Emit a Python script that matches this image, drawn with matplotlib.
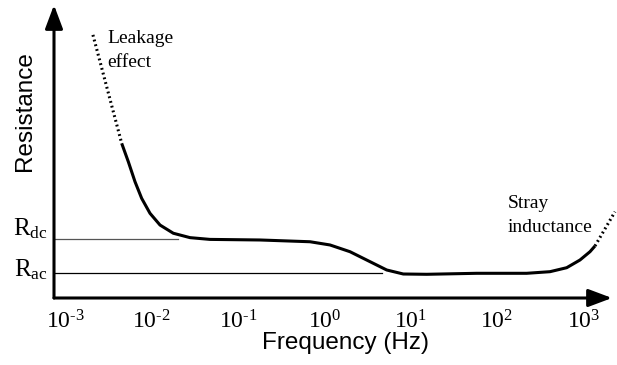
import matplotlib
matplotlib.use("Agg")
import matplotlib.pyplot as plt

plt.rcParams['mathtext.fontset'] = 'custom'
plt.rcParams['mathtext.rm'] = 'Liberation Serif'
plt.rcParams['mathtext.it'] = 'Liberation Serif:italic'

# ---- data (frequency in Hz, resistance in arbitrary units) ----
leak_f = [0.00208, 0.00448]
leak_r = [0.898, 0.528]

main_f = [0.00448, 0.00535, 0.00639, 0.00764, 0.00954, 0.01246, 0.01776,
          0.02773, 0.04726, 0.1795, 0.6815, 1.162, 1.981, 3.378, 5.276,
          8.215, 15.34, 58.2, 221.0, 411.5, 642.6, 916.2, 1196.0, 1367.0]
main_r = [0.528, 0.465, 0.397, 0.340, 0.289, 0.249, 0.221,
          0.206, 0.200, 0.198, 0.192, 0.181, 0.158, 0.124, 0.0956,
          0.0819, 0.0809, 0.0843, 0.0843, 0.0898, 0.1034, 0.1297, 0.158, 0.1775]

stray_f = [1367.0, 2332.0]
stray_r = [0.1775, 0.2945]

R_dc = 0.203
R_ac = 0.087
rdc_end = 0.0203
rac_end = 4.60

tick_vals = [1e-3, 1e-2, 1e-1, 1e0, 1e1, 1e2, 1e3]
tick_labels = [r'$\mathrm{10^{\text{-}3}}$', r'$\mathrm{10^{\text{-}2}}$',
               r'$\mathrm{10^{\text{-}1}}$', r'$\mathrm{10^{0}}$',
               r'$\mathrm{10^{1}}$', r'$\mathrm{10^{2}}$', r'$\mathrm{10^{3}}$']

W, H = 617, 365
fig = plt.figure(figsize=(W / 100, H / 100), dpi=100)
x0, x1, y0, y1 = 54, 612, 298, 5
ax = fig.add_axes([x0 / W, (H - y0) / H, (x1 - x0) / W, (y0 - y1) / H])
ax.set_xscale('log')
ax.set_xlim(10 ** -3.133, 10 ** 3.333)
ax.set_ylim(0, 1)
for s in ax.spines.values():
    s.set_visible(False)
ax.set_yticks([])
ax.set_xticks(tick_vals)
ax.set_xticklabels(tick_labels, fontsize=17)
ax.xaxis.set_minor_locator(matplotlib.ticker.NullLocator())
ax.tick_params(axis='x', length=0, pad=8)

# reference lines
ax.plot([ax.get_xlim()[0], rdc_end], [R_dc, R_dc], color='#555555', lw=0.9)
ax.plot([ax.get_xlim()[0], rac_end], [R_ac, R_ac], color='black', lw=0.9)

# curve
ax.plot(main_f, main_r, color='black', lw=2.2, solid_capstyle='butt',
        solid_joinstyle='round')
ax.plot(leak_f, leak_r, color='black', lw=2.2, ls=(0, (0.6, 1.0)),
        clip_on=False)
ax.plot(stray_f, stray_r, color='black', lw=2.2, ls=(0, (0.6, 1.0)),
        clip_on=False)

# axes arrows
arrow = dict(arrowstyle='-|>,head_length=0.8,head_width=0.3', color='black',
             lw=2.2, shrinkA=0, shrinkB=0, mutation_scale=18)
ax.annotate('', xy=(1, 0), xytext=(0, 0), xycoords='axes fraction',
            textcoords='axes fraction', arrowprops=arrow, annotation_clip=False)
ax.annotate('', xy=(0, 1), xytext=(0, 0), xycoords='axes fraction',
            textcoords='axes fraction', arrowprops=arrow, annotation_clip=False)

def fx(px):
    return px / W

def fy(py):
    return (H - py) / H

serif = 'Liberation Serif'
sans = 'Liberation Sans'
fig.text(fx(48), fy(235), r'$\mathrm{R_{dc}}$', fontsize=18, ha='right', va='baseline')
fig.text(fx(48), fy(276), r'$\mathrm{R_{ac}}$', fontsize=18, ha='right', va='baseline')
fig.text(fx(107), fy(43), 'Leakage', family=serif, fontsize=14, ha='left', va='baseline')
fig.text(fx(107), fy(67), 'effect', family=serif, fontsize=14, ha='left', va='baseline')
fig.text(fx(508), fy(208), 'Stray', family=serif, fontsize=14, ha='left', va='baseline')
fig.text(fx(508), fy(232), 'inductance', family=serif, fontsize=14, ha='left', va='baseline')
fig.text(fx(25), fy(111), 'Resistance', family=sans, fontsize=17.5, rotation=90,
         ha='center', va='center')
fig.text(fx(345), fy(343), 'Frequency (Hz)', family=sans, fontsize=17.5,
         ha='center', va='center')

fig.savefig('out.png', dpi=100)
